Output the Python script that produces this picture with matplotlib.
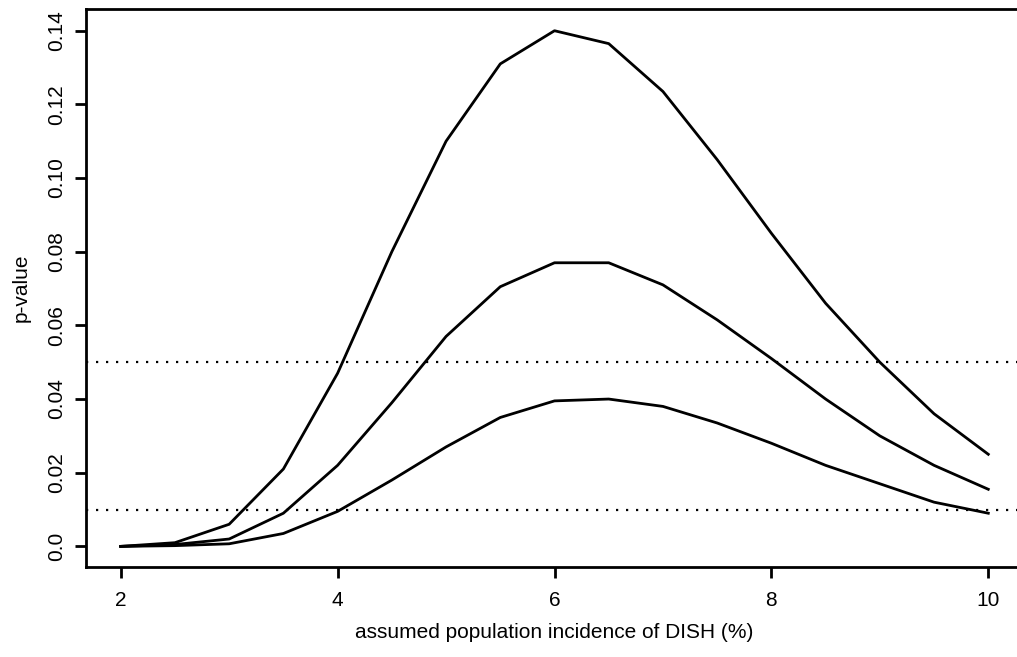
import matplotlib
matplotlib.use("Agg")
import matplotlib.pyplot as plt

plt.rcParams["font.family"] = ["Liberation Sans", "DejaVu Sans"]

# ── Data ───────────────────────────────────────────────────────────────────
incidence = [2.0, 2.5, 3.0, 3.5, 4.0, 4.5, 5.0, 5.5, 6.0,
             6.5, 7.0, 7.5, 8.0, 8.5, 9.0, 9.5, 10.0]
p_upper = [0.0, 0.001, 0.006, 0.021, 0.047, 0.080, 0.110, 0.131, 0.140,
           0.1365, 0.1235, 0.105, 0.085, 0.066, 0.050, 0.036, 0.025]
p_middle = [0.0, 0.0005, 0.002, 0.009, 0.022, 0.039, 0.057, 0.0705, 0.077,
            0.077, 0.071, 0.0615, 0.051, 0.040, 0.030, 0.022, 0.0155]
p_lower = [0.0, 0.0002, 0.0007, 0.0035, 0.0095, 0.018, 0.027, 0.035, 0.0395,
           0.040, 0.038, 0.0335, 0.028, 0.022, 0.017, 0.012, 0.009]
cutoffs = [0.05, 0.01]
xticks = [2, 4, 6, 8, 10]
yticks = [0.0, 0.02, 0.04, 0.06, 0.08, 0.10, 0.12, 0.14]
ytick_labels = ["0.0", "0.02", "0.04", "0.06", "0.08", "0.10", "0.12", "0.14"]

# ── Figure (R-style base plot, right edge cropped like the scan) ───────────
W, H = 1017, 657
fig = plt.figure(figsize=(W / 100, H / 100), dpi=100)
ax = fig.add_axes([86 / W, 1 - 567 / H, 937 / W, 558 / H])

for p in (p_upper, p_middle, p_lower):
    ax.plot(incidence, p, color="black", lw=2.0, solid_joinstyle="round")
for c in cutoffs:
    ax.axhline(c, color="black", lw=1.6, linestyle=(0, (1, 3.5)))

ax.set_xlim(1.68, 10.32)
ax.set_ylim(-0.0056, 0.1459)
ax.set_xticks(xticks)
ax.set_yticks(yticks)
ax.set_yticklabels(ytick_labels, rotation=90, va="center")
ax.tick_params(direction="out", length=8, width=2, labelsize=15)
ax.tick_params(axis="x", pad=9)
ax.tick_params(axis="y", pad=6)
for s in ax.spines.values():
    s.set_linewidth(2)

ax.set_xlabel("assumed population incidence of DISH (%)", fontsize=15, labelpad=10)
ax.set_ylabel("p-value", fontsize=15, labelpad=12)

fig.savefig("out.png", dpi=100)
